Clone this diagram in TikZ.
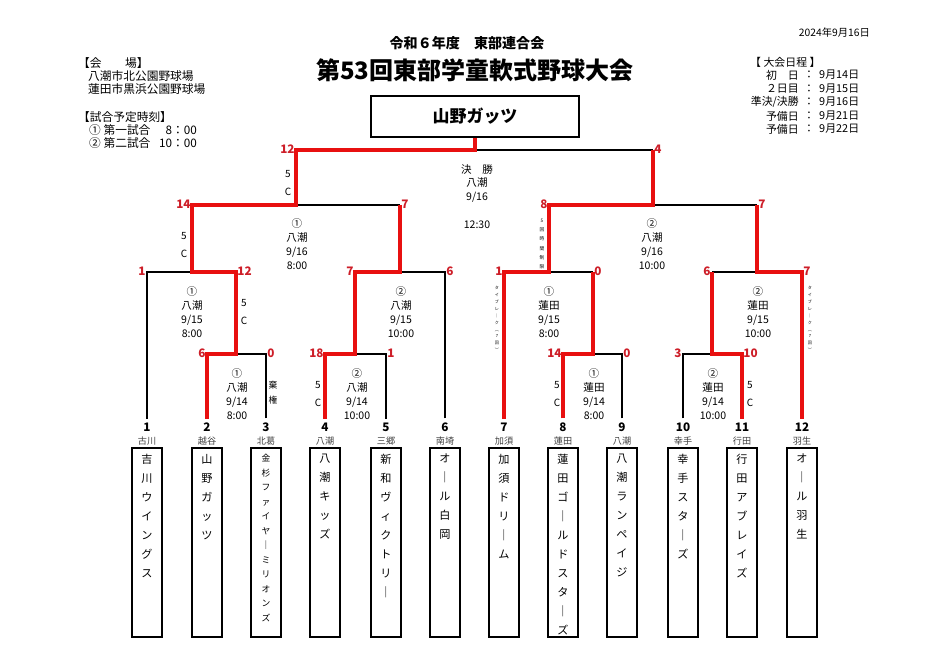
\documentclass[tikz,border=0pt]{standalone}
\usepackage{fontspec}
\setmainfont{Noto Sans CJK JP}
\usetikzlibrary{positioning}
\definecolor{winred}{RGB}{232,16,16}
\definecolor{scorered}{RGB}{205,30,40}
\tikzset{
	win/.style={draw=winred,line width=3pt},
	lose/.style={draw=black,line width=0.9pt},
	sl/.style={anchor=east,text=scorered,inner sep=1pt,yshift=1pt,font=\fontsize{10}{10}\selectfont\bfseries},
	sr/.style={sl,anchor=west},
	info/.style={align=center,inner sep=0pt,font=\fontsize{9}{11.9}\selectfont},
	note/.style={align=center,inner sep=0pt,font=\fontsize{8.5}{15.5}\selectfont},
	tiny/.style={align=center,inner sep=0pt,font=\fontsize{3.5}{5.9}\selectfont},
	tbox/.style={draw,line width=1.3pt,minimum width=0.9cm,minimum height=5.67cm},
	tname/.style={align=center,anchor=north,inner sep=0pt,font=\fontsize{9.5}{16.2}\selectfont},
	tnamesm/.style={tname,font=\fontsize{7.5}{12.4}\selectfont},
	lbl/.style={anchor=west,inner sep=0pt,font=\fontsize{10}{10}\selectfont}
}
\begin{document}
\begin{tikzpicture}[x=0.03cm,y=-0.03cm]
	\useasboundingbox (0,0) rectangle (935,661);
	\node[font=\fontsize{12}{12}\selectfont\bfseries] (hd) at (467,43) {令和６年度　東部連合会};
	\node[font=\fontsize{20.5}{20.5}\selectfont\bfseries] (ttl) at (475,70) {第53回東部学童軟式野球大会};
	\node[anchor=east,font=\fontsize{8.8}{8.8}\selectfont] (dt) at (874,33) {2024年9月16日};
	\node[lbl] (ven) at (78,63) {【会　　場】};
	\node[lbl] (ven1) at (88,76) {八潮市北公園野球場};
	\node[lbl] (ven2) at (88,89) {蓮田市黒浜公園野球場};
	\node[lbl] (tim) at (78,117) {【試合予定時刻】};
	\node[lbl] (tim1) at (89,130) {① 第一試合};
	\node[lbl,anchor=east] (tim1t) at (197,130) {8：00};
	\node[lbl] (tim2) at (89,143) {② 第二試合};
	\node[lbl,anchor=east] (tim2t) at (197,143) {10：00};
	\node[lbl,font=\fontsize{9.3}{9.3}\selectfont] (sch) at (750,62) {【 大会日程 】};
	\foreach \y/\l/\d [count=\k] in {75/初　日/9月14日, 89/２日目/9月15日, 102/{準決/決勝}/9月16日, 116/予備日/9月21日, 129/予備日/9月22日} {
		\node[lbl,anchor=east,font=\fontsize{9.3}{9.3}\selectfont] (schl\k) at (799,\y) {\l};
		\node[lbl,anchor=center,font=\fontsize{9.3}{9.3}\selectfont] (schc\k) at (809,\y) {：};
		\node[lbl,font=\fontsize{9.3}{9.3}\selectfont] (schd\k) at (819,\y) {\d};
	}
	\node[draw,line width=1.5pt,minimum width=6.24cm,minimum height=1.23cm,font=\fontsize{14.5}{14.5}\selectfont\bfseries] (champ) at (475,116.5) {山野ガッツ};
	\foreach \i/\x/\r/\f/\nm in {
		1/147/古川/tname/{吉\\川\\ウ\\イ\\ン\\グ\\ス},
		2/207/越谷/tname/{山\\野\\ガ\\ッ\\ツ},
		3/266/北葛/tnamesm/{金\\杉\\フ\\ァ\\イ\\ヤ\\｜\\ミ\\リ\\オ\\ン\\ズ},
		4/325/八潮/tname/{八\\潮\\キ\\ッ\\ズ},
		5/386/三郷/tname/{新\\和\\ヴ\\ィ\\ク\\ト\\リ\\｜},
		6/445/南埼/tname/{オ\\｜\\ル\\白\\岡},
		7/504/加須/tname/{加\\須\\ド\\リ\\｜\\ム},
		8/563/蓮田/tname/{蓮\\田\\ゴ\\｜\\ル\\ド\\ス\\タ\\｜\\ズ},
		9/622/八潮/tname/{八\\潮\\ラ\\ン\\ペ\\イ\\ジ},
		10/683/幸手/tname/{幸\\手\\ス\\タ\\｜\\ズ},
		11/742/行田/tname/{行\\田\\ア\\ブ\\レ\\イ\\ズ},
		12/802/羽生/tname/{オ\\｜\\ル\\羽\\生}} {
		\node[font=\fontsize{10}{10}\selectfont\bfseries] (n\i) at (\x,427) {\i};
		\node[font=\fontsize{7.8}{7.8}\selectfont,text=black!75] (r\i) at (\x,441) {\r};
		\node[tbox] (b\i) at (\x,542.5) {};
		\node[\f] (nm\i) at ([yshift=-0.2cm]b\i.north) {\nm};
	}
	\coordinate (a) at (236,354);
	\coordinate (b) at (355,354);
	\coordinate (c) at (192,272);
	\coordinate (d) at (400,272);
	\coordinate (e) at (593,354);
	\coordinate (f) at (712,354);
	\coordinate (g) at (549,272);
	\coordinate (h) at (757,272);
	\coordinate (s1) at (296,205);
	\coordinate (s2) at (653,205);
	\coordinate (fin) at (475,150);
	\draw[lose] (n1.north) |- (c) (n3.north) |- (a) (n5.north) |- (b) (n6.north) |- (d)
		(n9.north) |- (e) (n10.north) |- (f) (e|-g) -- (g) (f|-h) -- (h)
		(d|-s1) -- (s1) (h|-s2) -- (s2) (s2|-fin) -- (fin);
	\draw[win] (n2.north) |- (a) |- (c) |- (s1) |- (fin) -- (champ.south);
	\draw[win] (n4.north) |- (b) |- (d) -- (d|-s1);
	\draw[win] (n7.north) |- (g) |- (s2) -- (s2|-fin);
	\draw[win] (n8.north) |- (e) -- (e|-g);
	\draw[win] (n11.north) |- (f) -- (f|-h);
	\draw[win] (n12.north) |- (h) -- (h|-s2);
	\foreach \x/\y/\s [count=\k] in {296/150/12, 192/205/14, 549/205/8, 147/272/1, 355/272/7, 504/272/1, 712/272/6, 207/354/6, 325/354/18, 563/354/14, 683/354/3}
		\node[sl] (scl\k) at (\x,\y) {\s};
	\foreach \x/\y/\s [count=\k] in {653/150/4, 400/205/7, 757/205/7, 236/272/12, 445/272/6, 593/272/0, 802/272/7, 266/354/0, 386/354/1, 622/354/0, 742/354/10}
		\node[sr] (scr\k) at (\x,\y) {\s};
	\foreach \x/\y/\t [count=\k] in {
		477/183.5/{決　勝\\八潮\\9/16}, 477/225/{12:30},
		297/244/{①\\八潮\\9/16\\8:00}, 652/244/{②\\八潮\\9/16\\10:00},
		192/312/{①\\八潮\\9/15\\8:00}, 401/312/{②\\八潮\\9/15\\10:00},
		549/312/{①\\蓮田\\9/15\\8:00}, 758/312/{②\\蓮田\\9/15\\10:00},
		237/394/{①\\八潮\\9/14\\8:00}, 357/394/{②\\八潮\\9/14\\10:00},
		594/394/{①\\蓮田\\9/14\\8:00}, 713/394/{②\\蓮田\\9/14\\10:00}}
		\node[info] (inf\k) at (\x,\y) {\t};
	\foreach \x/\y [count=\k] in {288/183, 184/245, 244/312, 318/394, 557/394, 750/394}
		\node[note] (cg\k) at (\x,\y) {5\\C};
	\node[note,font=\fontsize{7.5}{12.8}\selectfont] (abs) at (273,393) {棄\\権};
	\node[tiny,font=\fontsize{4}{7.8}\selectfont] (lim) at (542,244) {5\\回\\時\\間\\制\\限};
	\node[tiny] (tb1) at (497,319) {タ\\イ\\ブ\\レ\\｜\\ク\\︵\\7\\回\\︶};
	\node[tiny] (tb2) at (810,319) {タ\\イ\\ブ\\レ\\｜\\ク\\︵\\7\\回\\︶};
\end{tikzpicture}
\end{document}
